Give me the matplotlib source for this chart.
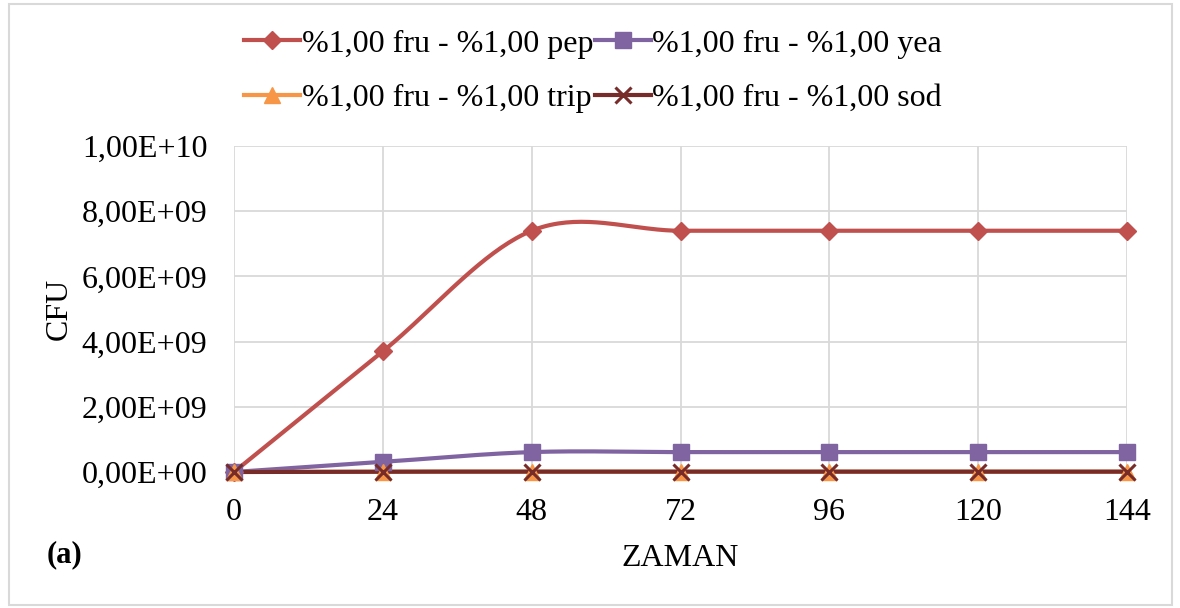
import numpy as np
import matplotlib
matplotlib.use("Agg")
import matplotlib.pyplot as plt
from matplotlib.patches import Rectangle
from matplotlib.ticker import FuncFormatter

plt.rcParams['font.family'] = ['Liberation Serif', 'DejaVu Serif']

# Sampling times (hours) and colony counts per medium
zaman = [0, 24, 48, 72, 96, 120, 144]
pep = [0.0, 3.7e9, 7.4e9, 7.4e9, 7.4e9, 7.4e9, 7.4e9]
yea = [0.0, 3.1e8, 6.1e8, 6.1e8, 6.1e8, 6.1e8, 6.1e8]
trip = [0.0, 1.0e7, 1.0e7, 1.0e7, 1.0e7, 1.0e7, 1.0e7]
sod = [0.0, 1.0e7, 1.0e7, 1.0e7, 1.0e7, 1.0e7, 1.0e7]

labels = ["%1,00 fru - %1,00 pep", "%1,00 fru - %1,00 yea",
          "%1,00 fru - %1,00 trip", "%1,00 fru - %1,00 sod"]
colors = ["#C0504D", "#8064A2", "#F79646", "#772C2A"]
markers = ["D", "s", "^", "x"]
msizes = [9, 11, 11, 11]

FS = 23


def smooth(x, y, n=40):
    """Catmull-Rom style Bezier smoothing through every point."""
    x = np.asarray(x, float)
    y = np.asarray(y, float)
    px = np.concatenate([[x[0]], x, [x[-1]]])
    py = np.concatenate([[y[0]], y, [y[-1]]])
    t = np.linspace(0, 1, n)
    xs, ys = [], []
    for i in range(len(x) - 1):
        p0 = np.array([px[i], py[i]])
        p1 = np.array([px[i + 1], py[i + 1]])
        p2 = np.array([px[i + 2], py[i + 2]])
        p3 = np.array([px[i + 3], py[i + 3]])
        c1 = p1 + (p2 - p0) / 6.0
        c2 = p2 - (p3 - p1) / 6.0
        b = ((1 - t) ** 3)[:, None] * p1 + (3 * (1 - t) ** 2 * t)[:, None] * c1 \
            + (3 * (1 - t) * t ** 2)[:, None] * c2 + (t ** 3)[:, None] * p2
        xs.append(b[:, 0])
        ys.append(b[:, 1])
    return np.concatenate(xs), np.concatenate(ys)


fig = plt.figure(figsize=(11.8, 6.08), dpi=100)
ax = fig.add_axes([0.1983, 0.2237, 0.7568, 0.5362])

series = [pep, yea, trip, sod]
for vals, lab, col, mk, ms in zip(series, labels, colors, markers, msizes):
    mew = 2.2 if mk == 'x' else 1.0
    sx, sy = smooth(zaman, vals)
    ax.plot(sx, sy, color=col, lw=3.0, solid_capstyle='round', zorder=3,
            clip_on=False)
    ax.plot(zaman, vals, linestyle='none', marker=mk, markersize=ms, color=col,
            markeredgecolor=col, markeredgewidth=mew, zorder=4, clip_on=False)
    # legend proxy
    ax.plot([], [], color=col, lw=3.0, marker=mk, markersize=ms,
            markeredgewidth=mew, label=lab)

ax.set_xlim(0, 144)
ax.set_ylim(0, 1e10)
ax.set_xticks(zaman)
ax.set_yticks(np.arange(0, 1.0001e10, 2e9))
ax.yaxis.set_major_formatter(FuncFormatter(
    lambda v, p: ("%.2E" % v).replace(".", ",")))
ax.grid(True, color="#D9D9D9", lw=1.3, zorder=0)
ax.set_axisbelow(True)
for s in ["top", "right", "left"]:
    ax.spines[s].set_visible(False)
ax.spines["bottom"].set_color("#D9D9D9")
ax.spines["bottom"].set_linewidth(1.3)
ax.tick_params(length=0, labelsize=FS)
ax.tick_params(axis='x', pad=19)
ax.tick_params(axis='y', pad=19)

ax.set_xlabel("ZAMAN", fontsize=FS, labelpad=12)
ax.set_ylabel("CFU", fontsize=FS, labelpad=6)
fig.text(47 / 1180, 1 - 555 / 608, "(a)", fontsize=FS - 1, fontweight='bold',
         va='center', ha='left')

handles, labs = ax.get_legend_handles_labels()
order = [0, 2, 1, 3]
leg = fig.legend([handles[i] for i in order], [labs[i] for i in order],
                 ncol=2, loc='center', bbox_to_anchor=(593 / 1180, 1 - 71 / 608),
                 frameon=False, fontsize=FS, handlelength=1.75,
                 handletextpad=0.05, columnspacing=0.05, labelspacing=0.78,
                 borderpad=0.0)

fig.patches.append(Rectangle((9 / 1180, 3 / 608), 1163 / 1180, 601 / 608,
                             transform=fig.transFigure, fill=False,
                             edgecolor="#D9D9D9", lw=1.5))

fig.savefig("out.png", dpi=100)
